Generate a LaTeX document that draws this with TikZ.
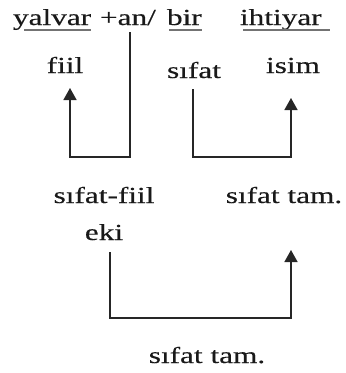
\documentclass[tikz,border=0pt]{standalone}
\usepackage{fontspec}
\setmainfont{Liberation Serif}
\newfontfamily\wfont[FakeBold=0.35]{Liberation Serif}
\usetikzlibrary{arrows.meta}
\newcommand\wdt[1]{\scalebox{1.36}[1]{#1}}
\tikzset{
  word/.style={inner sep=0pt, outer sep=0pt, font=\wfont\fontsize{23}{25}\selectfont, text=black!90},
  conn/.style={line width=1.6pt, draw=black!85},
  arr/.style={conn, -{Triangle[width=13pt,length=12pt]}},
  uline/.style={line width=2pt, draw=black!55}
}
\begin{document}
\begin{tikzpicture}[x=1pt,y=-1pt]
\useasboundingbox (0,0) rectangle (346,373);
% top line
\node[word, anchor=base west] (yalvar) at (13,25) {\wdt{yalvar}};
\node[word, anchor=base west] (an) at (100,25) {\wdt{+an/}};
\node[word, anchor=base west] (bir) at (167,25) {\wdt{bir}};
\node[word, anchor=base west] (ihtiyar) at (240,25) {\wdt{ihtiyar}};
% underlines
\draw[uline] ([xshift=11pt,yshift=-5pt]yalvar.base west) -- ([yshift=-5pt]yalvar.base east);
\draw[uline] ([xshift=2pt,yshift=-5pt]bir.base west) -- ([yshift=-5pt]bir.base east);
\draw[uline] ([xshift=3pt,yshift=-5pt]ihtiyar.base west) -- ([xshift=8pt,yshift=-5pt]ihtiyar.base east);
% second row
\node[word, anchor=base] (fiil) at (65,73) {\wdt{fiil}};
\node[word, anchor=base] (sifat) at (194,78) {\wdt{sıfat}};
\node[word, anchor=base] (isim) at (293,73) {\wdt{isim}};
% third row
\node[word, anchor=base] (sf) at (104,203) {\wdt{sıfat-fiil}};
\node[word, anchor=base] (eki) at (104,240) {\wdt{eki}};
\node[word, anchor=base] (st1) at (284,203) {\wdt{sıfat tam.}};
% bottom
\node[word, anchor=base] (st2) at (207,363) {\wdt{sıfat tam.}};
% connector coordinates
\coordinate (a1s) at (130,32);
\coordinate (a1t) at (70,88);
\coordinate (a2s) at (193,89);
\coordinate (a2t) at (291,98);
\coordinate (a3s) at (110,252);
\coordinate (a3t) at (291,250);
\draw[arr] (a1s) -- (130,157) -| (a1t);
\draw[arr] (a2s) -- (193,157) -| (a2t);
\draw[arr] (a3s) -- (110,318) -| (a3t);
\end{tikzpicture}
\end{document}
